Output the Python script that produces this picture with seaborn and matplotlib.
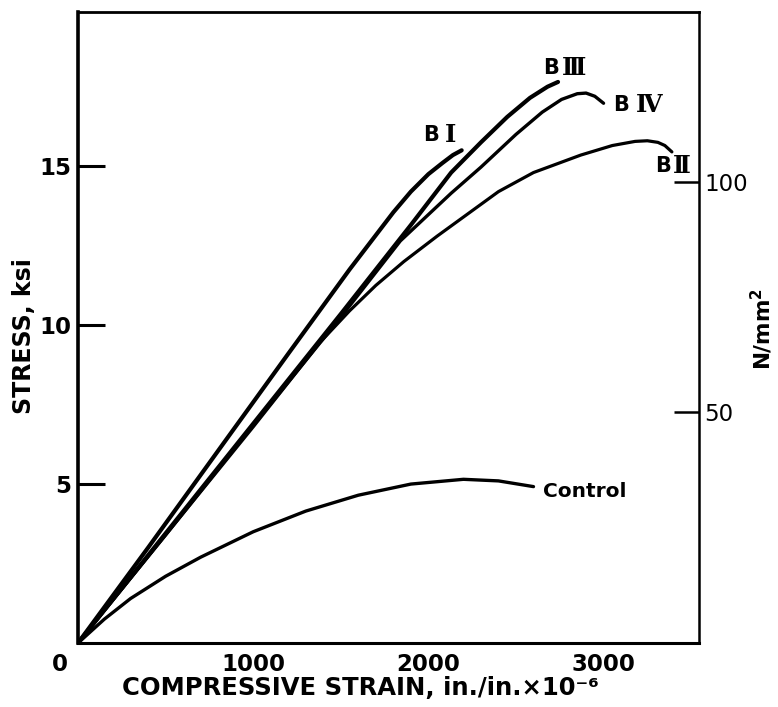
import matplotlib
matplotlib.use("Agg")
import matplotlib.pyplot as plt
import numpy as np
import pandas as pd
import seaborn as sns

# Compressive strain (in./in. x 1e-6) and stress (ksi)
strain_b1 = [0, 400, 800, 1200, 1550, 1800, 1900, 2000, 2080, 2140, 2190]
stress_b1 = [0, 3.0, 6.05, 9.1, 11.75, 13.55, 14.2, 14.75, 15.1, 15.35, 15.5]

strain_b3 = [0, 500, 1000, 1500, 1900, 2130, 2300, 2450, 2580, 2680, 2740]
stress_b3 = [0, 3.45, 6.9, 10.35, 13.15, 14.8, 15.75, 16.55, 17.15, 17.5, 17.65]

strain_b4 = [0, 500, 1000, 1500, 1840, 2130, 2300, 2500, 2650, 2760, 2850, 2900, 2950, 3000]
stress_b4 = [0, 3.4, 6.85, 10.25, 12.65, 14.15, 14.97, 16.0, 16.7, 17.1, 17.28, 17.3, 17.2, 16.98]

strain_b2 = [0, 500, 1000, 1380, 1550, 1700, 1860, 2050, 2200, 2400, 2600, 2870,
             3050, 3180, 3250, 3310, 3350, 3390]
stress_b2 = [0, 3.4, 6.8, 9.45, 10.45, 11.25, 12.0, 12.8, 13.4, 14.2, 14.8, 15.35,
             15.65, 15.78, 15.8, 15.75, 15.65, 15.45]

strain_ctrl = [0, 150, 300, 500, 700, 1000, 1300, 1600, 1900, 2200, 2400, 2600]
stress_ctrl = [0, 0.75, 1.4, 2.1, 2.7, 3.5, 4.15, 4.65, 5.0, 5.15, 5.1, 4.92]

specimens = ["BI", "BIII", "BIV", "BII", "Control"]
numerals = {"BI": "\u2160", "BIII": "\u2162", "BIV": "\u2163", "BII": "\u2161"}
x_ticks = [1000, 2000, 3000]
y_ticks = [5, 10, 15]
si_ticks = [50, 100]
KSI_TO_NMM2 = 6.894757

sns.set_style("white")
plt.rcParams["font.family"] = ["DejaVu Sans"]
for key in ["text.color", "axes.labelcolor", "xtick.color", "ytick.color", "axes.edgecolor"]:
    plt.rcParams[key] = "black"

curves = [
    (specimens[0], strain_b1, stress_b1),
    (specimens[1], strain_b3, stress_b3),
    (specimens[2], strain_b4, stress_b4),
    (specimens[3], strain_b2, stress_b2),
    (specimens[4], strain_ctrl, stress_ctrl),
]
df = pd.concat(
    [pd.DataFrame({"strain": xs, "stress": ys, "specimen": name}) for name, xs, ys in curves],
    ignore_index=True,
)

widths = {"BI": 3.0, "BIII": 3.0, "BIV": 2.4, "BII": 2.3, "Control": 2.4}

fig = plt.figure(figsize=(7.78, 7.07), dpi=100)
ax = fig.add_axes([0.1003, 0.0905, 0.7982, 0.8925])

sns.lineplot(data=df, x="strain", y="stress", hue="specimen", size="specimen",
             sizes=widths, palette={n: "black" for n in specimens},
             sort=False, estimator=None, legend=False, ax=ax)
for line in ax.lines:
    line.set_solid_capstyle("round")
    line.set_solid_joinstyle("round")

ax.set_xlim(0, 3545)
ax.set_ylim(0, 19.85)
ax.set_xticks(x_ticks)
ax.set_yticks(y_ticks)
ax.set_xticklabels([str(v) for v in x_ticks], fontsize=16.5, fontweight="bold")
ax.set_yticklabels([str(v) for v in y_ticks], fontsize=16.5, fontweight="bold")
ax.tick_params(axis="x", direction="in", length=16.5, width=2.2, pad=7, color="black")
ax.tick_params(axis="y", direction="in", length=19.5, width=2.2, pad=5, color="black")

for side, lw in [("left", 2.6), ("bottom", 2.2), ("top", 2.0), ("right", 1.8)]:
    ax.spines[side].set_visible(True)
    ax.spines[side].set_color("black")
    ax.spines[side].set_linewidth(lw)

ax.set_xlabel("COMPRESSIVE STRAIN, in./in.\u00d710\u207b\u2076",
              fontsize=17.5, fontweight="bold")
ax.xaxis.set_label_coords(0.454, -0.052)
ax.set_ylabel("STRESS, ksi", fontsize=17, fontweight="bold")
ax.yaxis.set_label_coords(-0.068, 0.4865)

# Shared origin label at the lower-left corner
ax.annotate("0", xy=(0, 0), xytext=(-13, -7), textcoords="offset points",
            ha="center", va="top", fontsize=16.5, fontweight="bold")

# Secondary stress scale in N/mm^2
ax2 = ax.twinx()
ax2.set_ylim(0, 19.85 * KSI_TO_NMM2)
ax2.set_yticks(si_ticks)
ax2.set_yticklabels([str(v) for v in si_ticks], fontsize=16.5)
ax2.tick_params(axis="y", direction="in", length=18, width=1.8, pad=4, color="black")
for side in ["left", "bottom", "top", "right"]:
    ax2.spines[side].set_visible(False)
ax2.set_ylabel("N/mm$^\\mathbf{2}$", fontsize=15.5, fontweight="bold")
ax2.yaxis.set_label_coords(1.0805, 0.4976)

# Curve labels: sans "B" followed by a Roman numeral with joined serifs
label_pos = {
    "BI": (1969, 15.98, 15.5),
    "BIII": (2654, 18.09, 13.5),
    "BIV": (3054, 16.92, 16.5),
    "BII": (3294, 15.0, 12.5),
}
for name, (lx, ly, gap) in label_pos.items():
    ax.text(lx, ly, "B", ha="left", va="center", fontsize=15, fontweight="bold")
    ax.annotate(numerals[name], xy=(lx, ly), xytext=(gap, 0), textcoords="offset points",
                ha="left", va="center", fontsize=17.5, fontweight="bold",
                family=["DejaVu Serif"])
ax.text(2654, 4.78, "Control", ha="left", va="center", fontsize=14.5, fontweight="bold")

fig.savefig("out.png", dpi=100, facecolor="white")
